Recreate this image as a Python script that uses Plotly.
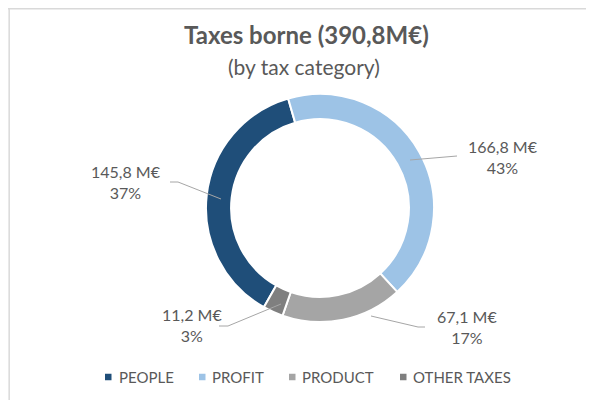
import plotly.graph_objects as go

# data
categories = ["PEOPLE", "PROFIT", "PRODUCT", "OTHER TAXES"]
amounts_meur = [145.8, 166.8, 67.1, 11.2]
shares_pct = [37, 43, 17, 3]
total_label = "390,8M€"

colors = ["#1F4E79", "#9DC3E6", "#A5A5A5", "#7F7F7F"]
TXT = "#595959"
FONT = "Lato"

# the page body has an 8px margin, so the figure is a bit smaller and
# everything below is given in window pixels and shifted by OFF
OFF = 8
W, H = 594 - OFF, 400 - OFF

# donut geometry in window px (centre + outer radius)
CX, CY, R = 320, 208, 114

# label placement (px): text centre, leader path (anchor on ring -> elbow -> end)
label_pos = [(126, 182), (503, 157), (467, 327), (192, 325)]
leaders = [
    [(221, 199), (178, 182), (170, 182)],
    [(410, 160), (457, 156)],
    [(371, 316), (418, 327), (425, 327)],
    [(281, 304), (228, 326), (219, 326)],
]
# legend: swatch left edge, text left edge
legend_sw = [105, 199, 289, 400]
legend_tx = [117, 210, 300, 411]
LEGEND_Y = 377
SW = 6.5


def px(x):
    return (x - OFF) / W


def py(y):
    return 1 - (y - OFF) / H


fig = go.Figure(go.Pie(
    labels=categories,
    values=amounts_meur,
    hole=0.78,
    sort=False,
    direction="clockwise",
    rotation=209.5,
    marker=dict(colors=colors, line=dict(color="white", width=2)),
    textinfo="none",
    hoverinfo="label+value+percent",
    showlegend=False,
    domain=dict(x=[px(CX - R), px(CX + R)], y=[py(CY + R), py(CY - R)]),
))

# data labels + leader lines
for amt, pct, (tx, ty), path in zip(amounts_meur, shares_pct, label_pos, leaders):
    txt = f"{amt:.1f}".replace(".", ",") + " M€<br>" + f"{pct}%"
    fig.add_annotation(x=px(tx), y=py(ty), xref="paper", yref="paper", text=txt,
                       showarrow=False, align="center", xanchor="center", yanchor="middle",
                       font=dict(family=FONT, size=16, color=TXT))
    d = "M " + " L ".join(f"{px(x)},{py(y)}" for x, y in path)
    fig.add_shape(type="path", path=d, xref="paper", yref="paper",
                  line=dict(color="#A6A6A6", width=1))

# legend, drawn by hand so the swatches stay small
for cat, col, sx, tx in zip(categories, colors, legend_sw, legend_tx):
    fig.add_shape(type="rect", xref="paper", yref="paper",
                  x0=px(sx), x1=px(sx + SW), y0=py(LEGEND_Y + SW / 2), y1=py(LEGEND_Y - SW / 2),
                  fillcolor=col, line=dict(width=0))
    fig.add_annotation(x=px(tx), y=py(LEGEND_Y), xref="paper", yref="paper",
                       xanchor="left", yanchor="middle", showarrow=False, text=cat,
                       font=dict(family=FONT, size=15, color=TXT))

# titles
fig.add_annotation(x=px(306), y=py(34), xref="paper", yref="paper", showarrow=False,
                   xanchor="center", yanchor="middle",
                   text=f"<b>Taxes borne ({total_label})</b>",
                   font=dict(family=FONT, size=24, color=TXT))
fig.add_annotation(x=px(304), y=py(67), xref="paper", yref="paper", showarrow=False,
                   xanchor="center", yanchor="middle",
                   text="(by tax category)",
                   font=dict(family=FONT, size=21, color=TXT))

# chart area border (only top/left edges are visible in the crop)
fig.add_shape(type="line", xref="paper", yref="paper", x0=0.002, x1=0.002, y0=0, y1=1,
              line=dict(color="#D9D9D9", width=1.5))
fig.add_shape(type="line", xref="paper", yref="paper", x0=0, x1=1, y0=0.998, y1=0.998,
              line=dict(color="#D9D9D9", width=1.5))

fig.update_layout(
    width=W, height=H,
    margin=dict(l=0, r=0, t=0, b=0),
    paper_bgcolor="white",
    plot_bgcolor="white",
    modebar=dict(bgcolor="rgba(0,0,0,0)", color="rgba(0,0,0,0)", activecolor="rgba(0,0,0,0)"),
)

fig.write_html("out.html")
